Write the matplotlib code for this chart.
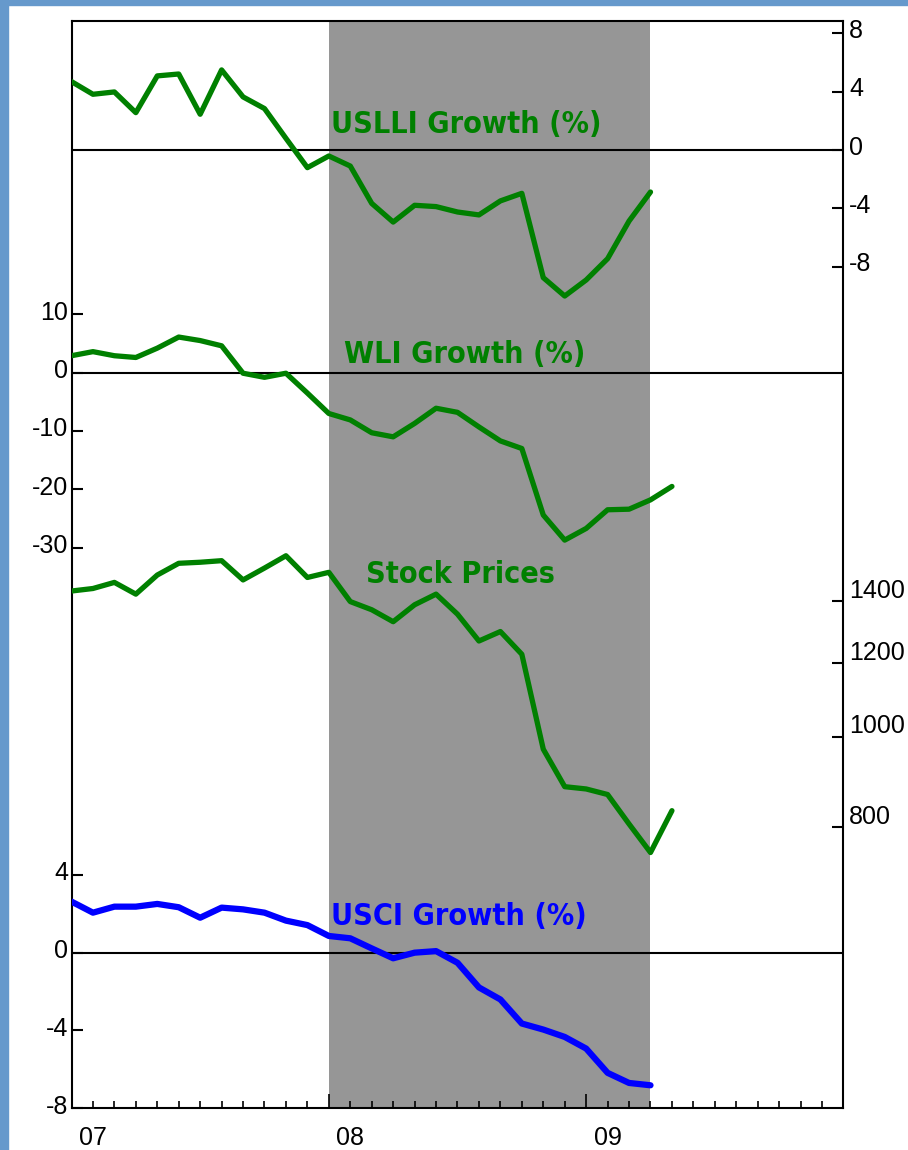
import os
import numpy as np
import matplotlib
matplotlib.use('Agg')
import matplotlib.pyplot as plt
from matplotlib import font_manager as fm
from matplotlib.ticker import NullLocator
from matplotlib.transforms import ScaledTranslation
from matplotlib.patches import Rectangle

plt.rcParams['font.family'] = ['Liberation Sans', 'DejaVu Sans']

# monthly data, month 0 = Jan 2007, x axis runs to Jan 2010
months = np.arange(37)
year_labels = {1: '07', 13: '08', 25: '09'}
recession = (12, 27)

uslli = [4.69, 3.82, 3.98, 2.56, 5.08, 5.21, 2.45, 5.49, 3.64, 2.84, 0.8, -1.21,
         -0.41, -1.10, -3.66, -4.94, -3.79, -3.88, -4.25, -4.45, -3.49, -2.97,
         -8.75, -10.01, -8.91, -7.45, -4.87, -2.88]
wli = [2.9, 3.6, 2.9, 2.6, 4.2, 6.1, 5.5, 4.6, -0.1, -0.8, -0.1, -3.5,
       -7.0, -8.1, -10.3, -11.0, -8.7, -6.1, -6.8, -9.3, -11.7, -13.0,
       -24.4, -28.7, -26.7, -23.5, -23.4, -21.8, -19.5]
stock = [1435, 1444, 1466, 1424, 1493, 1537, 1541, 1547, 1475, 1519, 1566, 1484,
         1503, 1398, 1370, 1330, 1387, 1424, 1355, 1268, 1298, 1227,
         970, 884, 879, 867, 806, 751, 833]
usci = [2.63, 2.06, 2.37, 2.37, 2.51, 2.34, 1.80, 2.32, 2.23, 2.06, 1.65, 1.42,
        0.86, 0.74, 0.22, -0.29, 0.0, 0.08, -0.52, -1.79, -2.41, -3.65,
        -3.96, -4.34, -4.94, -6.19, -6.71, -6.83]

uslli_ticks = [8, 4, 0, -4, -8]
wli_ticks = [10, 0, -10, -20, -30]
stock_ticks = [1400, 1200, 1000, 800]
usci_ticks = [4, 0, -4, -8]

green = '#008000'
blue = '#0000ff'
shade = '#969696'
frame_blue = '#6699cc'

# pixel layout of the plot box
W, H = 908, 1150
L, R, T, B = 71.5, 843.5, 20.5, 1108
fig = plt.figure(figsize=(W / 100, H / 100), dpi=100)
fig.patches.append(Rectangle((0, 0), 8 / W, 1, transform=fig.transFigure,
                             color=frame_blue, zorder=0))
fig.patches.append(Rectangle((0, 1 - 5 / H), 1, 5 / H, transform=fig.transFigure,
                             color=frame_blue, zorder=0))
rect = [L / W, 1 - B / H, (R - L) / W, (B - T) / H]


def lin_lim(v1, p1, v2, p2):
    k = (p2 - p1) / (v1 - v2)
    return v1 - (B - p1) / k, v1 + (p1 - T) / k


def log_lim(v1, p1, v2, p2):
    k = (p2 - p1) / np.log(v1 / v2)
    return v1 * np.exp(-(B - p1) / k), v1 * np.exp((p1 - T) / k)


def lift(a, px):
    off = ScaledTranslation(0, px / 100, fig.dpi_scale_trans)
    for t in a.get_yticklabels():
        t.set_transform(t.get_transform() + off)


ytick_kw = dict(direction='in', length=8, width=1.5, labelsize=18)

# base axes: frame, time axis, shading, USCI
ax = fig.add_axes(rect)
ax.set_xlim(0, 36)
ax.set_ylim(*lin_lim(4, 875, -8, B))
for s in ax.spines.values():
    s.set_linewidth(1.5)
ax.axvspan(*recession, color=shade, lw=0, zorder=0)
ax.axhline(0, color='k', lw=1.5, zorder=1)
ax.plot(months[:len(usci)], usci, color=blue, lw=4.5, zorder=3,
        solid_capstyle='round')
ax.set_xticks([0, 12, 24, 36], labels=['', '', '', ''])
ax.set_xticks(months, minor=True,
              labels=[year_labels.get(m, '') for m in months])
ax.tick_params(axis='x', which='major', direction='in', length=10, width=1.2)
ax.tick_params(axis='x', which='minor', direction='in', length=5, width=1.2,
               pad=13, labelsize=18)
ax.set_yticks(usci_ticks, labels=[str(v) for v in usci_ticks])
ax.tick_params(axis='y', pad=2.5, **ytick_kw)


def overlay(lims, side, ticks, labels, scale='linear'):
    a = fig.add_axes(rect, sharex=ax)
    a.patch.set_visible(False)
    for s in a.spines.values():
        s.set_visible(False)
    a.set_yscale(scale)
    a.set_ylim(*lims)
    a.yaxis.set_minor_locator(NullLocator())
    a.set_yticks(ticks, labels=labels)
    a.tick_params(axis='x', which='both', bottom=False, labelbottom=False)
    if side == 'right':
        a.yaxis.tick_right()
        a.tick_params(axis='y', pad=4, **ytick_kw)
    else:
        a.tick_params(axis='y', pad=2.5, **ytick_kw)
    return a


ax_wli = overlay(lin_lim(10, 314.3, -30, 547.7), 'left', wli_ticks,
                 [str(v) for v in wli_ticks])
ax_wli.axhline(0, color='k', lw=1.5, zorder=1)
ax_wli.plot(months[:len(wli)], wli, color=green, lw=3.8, zorder=3,
            solid_capstyle='round')

ax_uslli = overlay(lin_lim(8, 33.3, -8, 266.7), 'right', uslli_ticks,
                   [str(v) for v in uslli_ticks])
ax_uslli.axhline(0, color='k', lw=1.5, zorder=1)
ax_uslli.plot(months[:len(uslli)], uslli, color=green, lw=3.8, zorder=3,
              solid_capstyle='round')

ax_stock = overlay(log_lim(1400, 601, 800, 827), 'right', stock_ticks,
                   [str(v) for v in stock_ticks], scale='log')
ax_stock.plot(months[:len(stock)], stock, color=green, lw=3.8, zorder=3,
              solid_capstyle='round')

lift(ax, 4)
lift(ax_wli, 4)
lift(ax_uslli, 5)
lift(ax_stock, 13)


# series titles in a condensed bold face if one is installed
def pick_font():
    files = [f.fname for f in fm.fontManager.ttflist]
    prefs = ['liberationsansnarrow-bold.', 'dejavusanscondensed-bold.',
             'robotocondensed-bold.', 'opensans_condensed-bold.',
             'opensans-condbold.']
    for p in prefs:
        for f in files:
            if os.path.basename(f).lower().startswith(p):
                return f
    for f in files:
        b = os.path.basename(f).lower()
        if ('condensed' in b or 'narrow' in b) and 'bold' in b and 'italic' not in b:
            return f
    return None


fpath = pick_font()
if fpath:
    title_font = fm.FontProperties(fname=fpath)
else:
    title_font = fm.FontProperties(family='Liberation Sans', weight='bold')

titles = [
    (ax_uslli, 12.08, 1.19, 'USLLI Growth (%)', green, 260),
    (ax_wli, 12.69, 1.61, 'WLI Growth (%)', green, 237),
    (ax_stock, 13.71, 1464, 'Stock Prices', green, 176),
    (ax, 12.08, 1.42, 'USCI Growth (%)', blue, 250),
]
texts = []
for a, x, y, s, c, wpx in titles:
    t = a.text(x, y, s, color=c, fontproperties=title_font, fontsize=24,
               ha='left', va='baseline', zorder=4)
    texts.append((t, wpx))

renderer = fig.canvas.get_renderer()
sizes = [24 * wpx / t.get_window_extent(renderer).width for t, wpx in texts]
size = float(np.mean(sizes)) * 1.04
for t, _ in texts:
    t.set_fontsize(size)

fig.savefig('out.png', dpi=100)
